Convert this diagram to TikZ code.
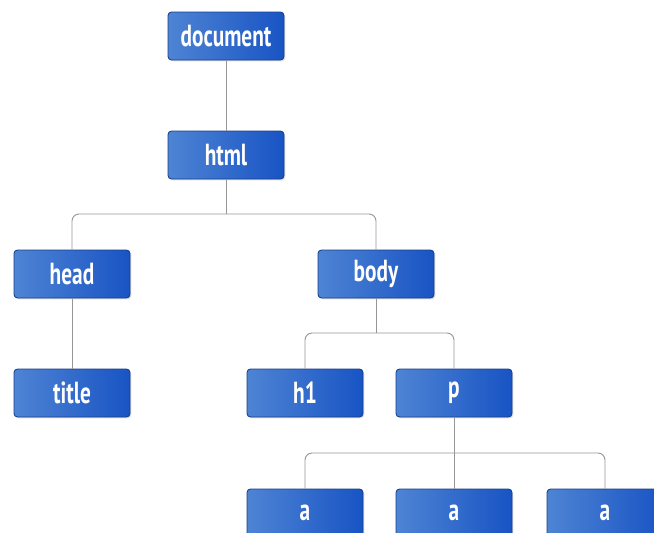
\documentclass[tikz,border=0pt]{standalone}
\usepackage{fontspec}
\setmainfont{PT Sans}[FakeStretch=0.7]
\usepackage{tikz}
\usetikzlibrary{shadows}

\definecolor{boxlight}{RGB}{78,132,212}
\definecolor{boxdark}{RGB}{24,84,196}
\definecolor{boxedge}{RGB}{24,62,138}
\definecolor{linkgray}{RGB}{150,150,150}

\begin{document}
\begin{tikzpicture}[
        tag/.style={rectangle, rounded corners=3pt, draw=boxedge, line width=0.7pt,
            left color=boxlight, right color=boxdark,
            drop shadow={opacity=0.25, shadow xshift=0.04, shadow yshift=-0.04},
            minimum width=3.48cm, minimum height=1.44cm,
            text=white, font=\fontsize{26}{28}\selectfont\bfseries},
        link/.style={draw=linkgray, line width=0.8pt, rounded corners=6pt}
    ]
        \clip (0,0) rectangle (19.62,-15.99);

        % Define the nodes of the tree
        \node[tag] (doc) at (6.78,-1.08) {document};
        \node[tag] (html) at (6.78,-4.65) {html};
        \node[tag] (head) at (2.16,-8.22) {head};
        \node[tag] (body) at (11.28,-8.22) {body};
        \node[tag] (title) at (2.16,-11.79) {title};
        \node[tag] (h1) at (9.15,-11.79) {h1};
        \node[tag] (p) at (13.62,-11.79) {p};
        \node[tag] (a1) at (9.15,-15.39) {a};
        \node[tag] (a2) at (13.62,-15.39) {a};
        \node[tag] (a3) at (18.15,-15.39) {a};

        % Define the joints where the branches split
        \coordinate (jhtml) at (6.78,-6.42);
        \coordinate (jbody) at (11.28,-9.99);
        \coordinate (jp) at (13.62,-13.59);

        % Define the branches
        \draw[link] (doc) -- (html);
        \draw[link] (html) -- (jhtml);
        \draw[link] (head.north) |- (jhtml) -| (body.north);
        \draw[link] (head) -- (title);
        \draw[link] (body) -- (jbody);
        \draw[link] (h1.north) |- (jbody) -| (p.north);
        \draw[link] (p) -- (a2);
        \draw[link] (a1.north) |- (jp) -| (a3.north);

    \end{tikzpicture}
\end{document}
